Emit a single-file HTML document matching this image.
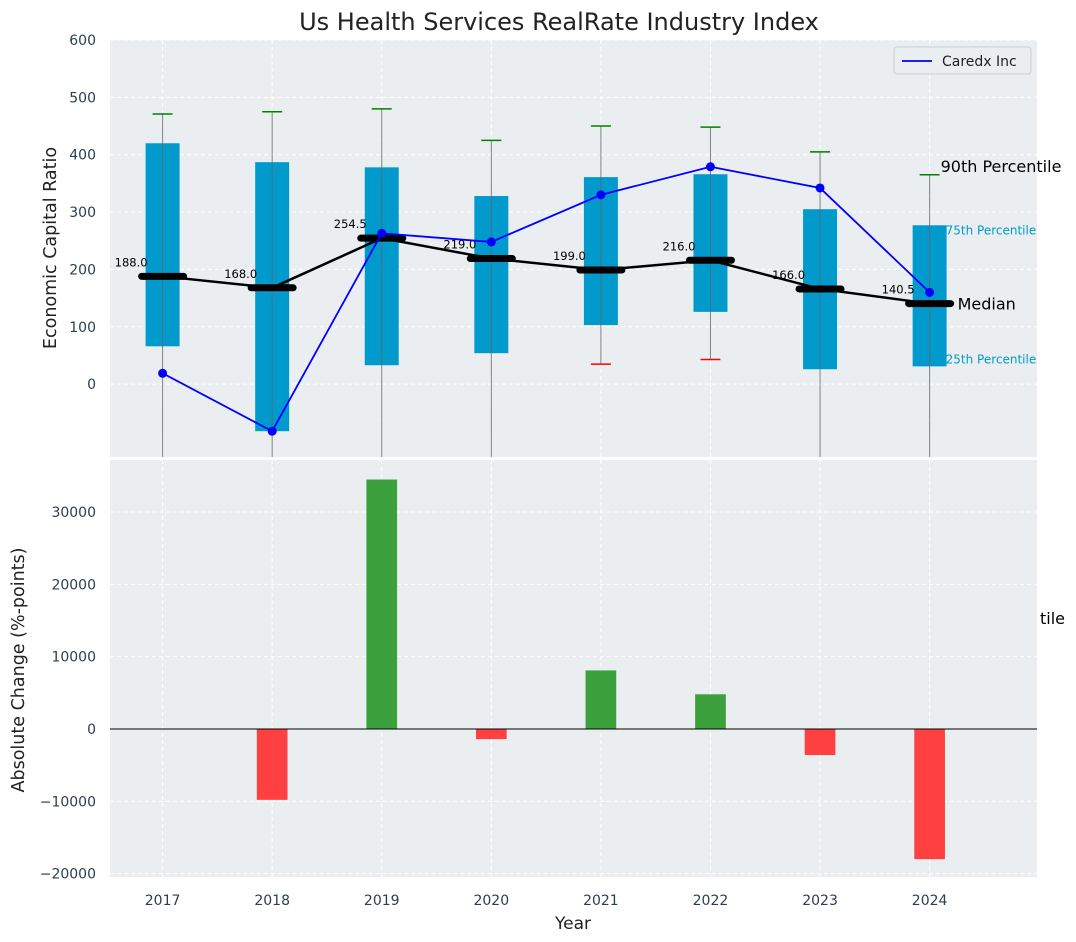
<!DOCTYPE html>
<html><head><meta charset="utf-8"><style>
body{margin:0;background:#fff;}
svg{display:block;font-family:"DejaVu Sans","Liberation Sans",sans-serif;}
</style></head><body>
<svg id="c" width="1076" height="942" viewBox="0 0 1076 942" xmlns="http://www.w3.org/2000/svg"></svg>
<script>
const years=[2017,2018,2019,2020,2021,2022,2023,2024];
const q1=[66,-82,33,54,103,126,26,31];
const q3=[420,387,378,328,361,366,305,277];
const medians=[188.0,168.0,254.5,219.0,199.0,216.0,166.0,140.5];
const p90=[471,475,480,425,450,448,405,365];
const p10=[null,null,null,null,35,43,null,null];
const caredx=[19,-82,263,248,330,379,342,160];
const changes=[0,-9800,34500,-1400,8100,4800,-3600,-18000];
const topTicks=[0,100,200,300,400,500,600];
const botTicks=[-20000,-10000,0,10000,20000,30000];

const NS="http://www.w3.org/2000/svg";
const svg=document.getElementById('c');
function el(t,a,p){const e=document.createElementNS(NS,t);for(const k in a)e.setAttribute(k,a[k]);(p||svg).appendChild(e);return e;}
const L=110,R=1037;
const X=v=>L+(v-2016.52)/(2024.98-2016.52)*(R-L);
const T1=40,B1=457,Y1=v=>T1+(600-v)/(600+127)*(B1-T1);
const T2=460,B2=877,Y2=v=>T2+(37200-v)/(37200+20470)*(B2-T2);

let g=el('rect',{x:L,y:T1,width:R-L,height:B1-T1,fill:'#eaeef0'});

g=el('rect',{x:L,y:T2,width:R-L,height:B2-T2,fill:'#eaeef0'});


years.forEach(y=>{
  el('line',{x1:X(y),x2:X(y),y1:T1,y2:B1,stroke:'#fff','stroke-dasharray':'4,3','stroke-width':1});
  el('line',{x1:X(y),x2:X(y),y1:T2,y2:B2,stroke:'#fff','stroke-dasharray':'4,3','stroke-width':1});
});
topTicks.forEach(v=>{
  el('line',{x1:L,x2:R,y1:Y1(v),y2:Y1(v),stroke:'#fff','stroke-dasharray':'4,3'});
  const t=el('text',{x:96,y:Y1(v)+5,'text-anchor':'end','font-size':14,fill:'#2c3e50'});t.textContent=v;
  
});
botTicks.forEach(v=>{
  el('line',{x1:L,x2:R,y1:Y2(v),y2:Y2(v),stroke:'#fff','stroke-dasharray':'4,3'});
  const t=el('text',{x:96,y:Y2(v)+5,'text-anchor':'end','font-size':14,fill:'#2c3e50'});t.textContent=(v<0?'\u2212'+(-v):v);
  
});

const bw=X(2017.155)-X(2017);
years.forEach((y,i)=>{
  const x=X(y);
  const r=el('rect',{x:x-bw,y:Y1(q3[i]),width:2*bw,height:Y1(q1[i])-Y1(q3[i]),fill:'#009bcc'});
  
  const lo=p10[i]==null?B1:Y1(p10[i]);
  el('line',{x1:x,x2:x,y1:Y1(p90[i]),y2:lo,stroke:'#666','stroke-width':1,opacity:0.8});
  const c=el('line',{x1:x-10,x2:x+10,y1:Y1(p90[i]),y2:Y1(p90[i]),stroke:'green','stroke-width':1.5});
  
  if(p10[i]!=null){const d=el('line',{x1:x-10,x2:x+10,y1:Y1(p10[i]),y2:Y1(p10[i]),stroke:'red','stroke-width':1.5});
    }
});
let pl=el('polyline',{points:years.map((y,i)=>X(y)+','+Y1(medians[i])).join(' '),fill:'none',stroke:'#000','stroke-width':2.5});

years.forEach((y,i)=>{
  const m=el('line',{x1:X(y)-21,x2:X(y)+21,y1:Y1(medians[i]),y2:Y1(medians[i]),stroke:'#000','stroke-width':7,'stroke-linecap':'round'});
  
  const t=el('text',{x:X(y)-15,y:Y1(medians[i])-10,'text-anchor':'end','font-size':11.5,fill:'#000'});t.textContent=medians[i].toFixed(1);
  
});
pl=el('polyline',{points:years.map((y,i)=>X(y)+','+Y1(caredx[i])).join(' '),fill:'none',stroke:'blue','stroke-width':1.8});

years.forEach((y,i)=>{const c=el('circle',{cx:X(y),cy:Y1(caredx[i]),r:4.5,fill:'blue'});
  });

function txt(x,y,s,sz,col,name,anchor){const t=el('text',{x:x,y:y,'font-size':sz,fill:col,'text-anchor':anchor||'start'});t.textContent=s;
  return t;}
const li=years.length-1,lx=X(years[li]);
txt(lx+11,Y1(p90[li])-3,'90th Percentile',16,'#000','label-90th');
txt(lx+16,Y1(q3[li])+9,'75th Percentile',12,'#009bcc','label-75th');
txt(lx+28,Y1(medians[li])+6,'Median',16,'#000','label-median');
txt(lx+16,Y1(q1[li])-3,'25th Percentile',12,'#009bcc','label-25th');

const bb=X(2017.14)-X(2017);
years.forEach((y,i)=>{const v=changes[i];if(v===0)return;
  const r=el('rect',{x:X(y)-bb,y:Math.min(Y2(v),Y2(0)),width:2*bb,height:Math.abs(Y2(v)-Y2(0)),fill:v>0?'#2e9a2e':'#ff3333',opacity:0.93});
  });
el('line',{x1:L,x2:R,y1:Y2(0),y2:Y2(0),stroke:'#000','stroke-width':1});
txt(1040,624,'tile',16,'#000','label-cutoff');

el('rect',{x:L,y:B1,width:R-L,height:T2-B1,fill:'#fff'});

years.forEach(y=>{txt(X(y),905,String(y),14,'#2c3e50','x-tick-'+y,'middle');});
txt(573,929,'Year',17,'#222','x-axis-title','middle');
let t=el('text',{x:56,y:248,'font-size':17.5,fill:'#222','text-anchor':'middle',transform:'rotate(-90 56 248)'});t.textContent='Economic Capital Ratio';

t=el('text',{x:24,y:670,'font-size':17.5,fill:'#222','text-anchor':'middle',transform:'rotate(-90 24 670)'});t.textContent='Absolute Change (%-points)';

txt(559,30,'Us Health Services RealRate Industry Index',24,'#222','chart-title','middle');

const lg=el('g',{});
el('rect',{x:894,y:47,width:137,height:27,rx:3,fill:'#eaeef0',stroke:'#ccc'},lg);
el('line',{x1:902,x2:932,y1:61,y2:61,stroke:'blue','stroke-width':1.8},lg);
const lt=el('text',{x:942,y:66,'font-size':14,fill:'#222'},lg);lt.textContent='Caredx Inc';

</script>
</body></html>
